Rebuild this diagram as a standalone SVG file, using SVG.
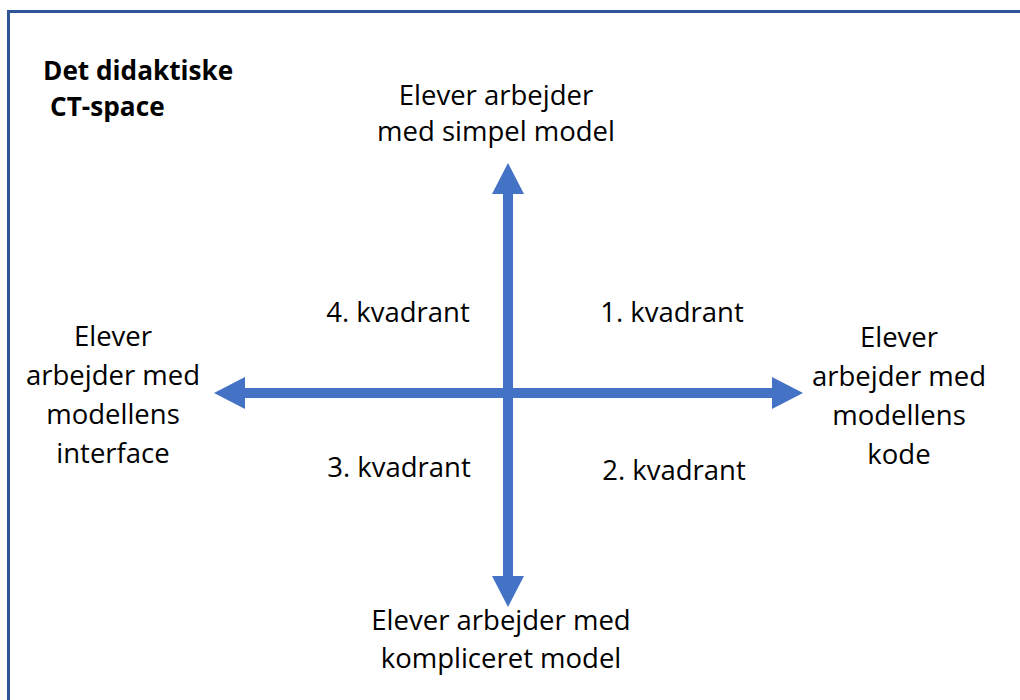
<svg xmlns="http://www.w3.org/2000/svg" width="1020" height="700" viewBox="0 0 1020 700">
  <style>
    .lbl { font-family: "Open Sans", "Liberation Sans", sans-serif; font-size: 27.5px; fill: #000; text-anchor: middle; }
    .title { font-family: "Open Sans", "Liberation Sans", sans-serif; font-size: 26.2px; font-weight: bold; fill: #000; }
    .axis { stroke: #4472C4; stroke-width: 10; fill: none; }
  </style>
  <defs>
    <marker id="head" markerUnits="userSpaceOnUse" markerWidth="31" markerHeight="32" viewBox="0 0 31 32" refX="0" refY="16" orient="auto-start-reverse">
      <path d="M0,0 L31,16 L0,32 Z" fill="#4472C4"/>
    </marker>
  </defs>

  <rect width="1020" height="700" fill="#fff"/>
  <!-- frame: only top and left edges fall inside the canvas -->
  <rect x="8.5" y="11.5" width="1100" height="800" fill="none" stroke="#2F5597" stroke-width="3"/>

  <g id="title">
    <text class="title" x="43" y="80">Det didaktiske</text>
    <text class="title" x="50" y="116">CT-space</text>
  </g>

  <g id="connectors">
    <line class="axis" x1="245" y1="393" x2="772" y2="393" marker-start="url(#head)" marker-end="url(#head)"/>
    <line class="axis" x1="508" y1="194" x2="508" y2="576" marker-start="url(#head)" marker-end="url(#head)"/>
  </g>

  <g id="top">
    <text class="lbl" x="496" y="105">Elever arbejder</text>
    <text class="lbl" x="496" y="141">med simpel model</text>
  </g>
  <g id="bottom">
    <text class="lbl" x="501" y="630">Elever arbejder med</text>
    <text class="lbl" x="501" y="668">kompliceret model</text>
  </g>
  <g id="left">
    <text class="lbl" x="113" y="346">Elever</text>
    <text class="lbl" x="113" y="385">arbejder med</text>
    <text class="lbl" x="113" y="424">modellens</text>
    <text class="lbl" x="113" y="463">interface</text>
  </g>
  <g id="right">
    <text class="lbl" x="899" y="347">Elever</text>
    <text class="lbl" x="899" y="386">arbejder med</text>
    <text class="lbl" x="899" y="425">modellens</text>
    <text class="lbl" x="899" y="464">kode</text>
  </g>
  <g id="q4"><text class="lbl" x="398" y="322">4. kvadrant</text></g>
  <g id="q1"><text class="lbl" x="672" y="322">1. kvadrant</text></g>
  <g id="q3"><text class="lbl" x="399" y="477">3. kvadrant</text></g>
  <g id="q2"><text class="lbl" x="674" y="480">2. kvadrant</text></g>
</svg>
